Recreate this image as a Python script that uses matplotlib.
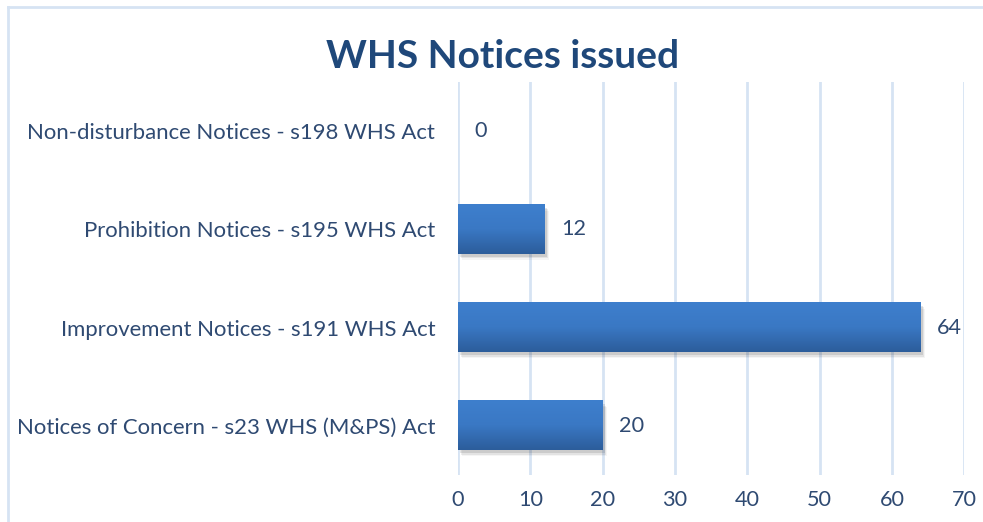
import matplotlib
matplotlib.use("Agg")
import matplotlib.pyplot as plt
import numpy as np
from matplotlib.colors import LinearSegmentedColormap
from matplotlib.lines import Line2D

categories = [
    "Notices of Concern - s23 WHS (M&PS) Act",
    "Improvement Notices - s191 WHS Act",
    "Prohibition Notices - s195 WHS Act",
    "Non-disturbance Notices - s198 WHS Act",
]
values = [20, 64, 12, 0]
xticks = [0, 10, 20, 30, 40, 50, 60, 70]
title = "WHS Notices issued"

plt.rcParams['font.family'] = ['Lato', 'DejaVu Sans']
text_color = "#2f4a72"
fs = 15.6

fig = plt.figure(figsize=(9.83, 5.22), dpi=100)
ax = fig.add_axes([0.466, 0.090, 0.515, 0.753])

y = np.arange(len(categories))
bh = 0.5
bars = ax.barh(y, values, height=bh, color="none", edgecolor="none", zorder=3)

cmap = LinearSegmentedColormap.from_list("g", ["#2c5d9b", "#3a78c4", "#3e7fcd"])
grad = np.linspace(0, 1, 64).reshape(-1, 1)
for b in bars:
    w = b.get_width()
    if w <= 0:
        continue
    x0, y0, h = b.get_x(), b.get_y(), b.get_height()
    for k, a in enumerate([0.10, 0.07, 0.04]):
        ax.add_patch(plt.Rectangle((x0 + 0.25 + 0.15 * k, y0 - 0.03 - 0.015 * k), w, h,
                                   color="#000000", alpha=a, lw=0, zorder=2))
    ax.imshow(grad, cmap=cmap, aspect="auto", extent=(x0, x0 + w, y0, y0 + h),
              origin="lower", zorder=3, interpolation="bicubic")

for yi, v in zip(y, values):
    ax.text(v + 2.2, yi, str(v), va="center", ha="left", fontsize=fs, color=text_color, zorder=4)

ax.set_xlim(0, 70)
ax.set_ylim(-0.5, 3.5)
ax.set_xticks(xticks)
ax.set_xticklabels([str(t) for t in xticks], fontsize=fs, color=text_color)
ax.set_yticks(y)
ax.set_yticklabels(categories, fontsize=15.9, color=text_color)
ax.tick_params(axis="both", length=0)
ax.tick_params(axis="x", pad=11)
ax.tick_params(axis="y", pad=16.5)
for s in ax.spines.values():
    s.set_visible(False)
ax.xaxis.grid(True, color="#d6e3f3", lw=2, zorder=0)
ax.set_axisbelow(True)
ax.set_facecolor("none")

fig.text(0.511, 0.892, title, ha="center", va="center", fontsize=28, fontweight="bold", color="#1f487a")

fig.add_artist(Line2D([0.008, 0.008], [0.0, 0.987], transform=fig.transFigure, color="#d6e3f3", lw=2))
fig.add_artist(Line2D([0.008, 1.0], [0.987, 0.987], transform=fig.transFigure, color="#d6e3f3", lw=2))

fig.savefig("out.png", dpi=100)
